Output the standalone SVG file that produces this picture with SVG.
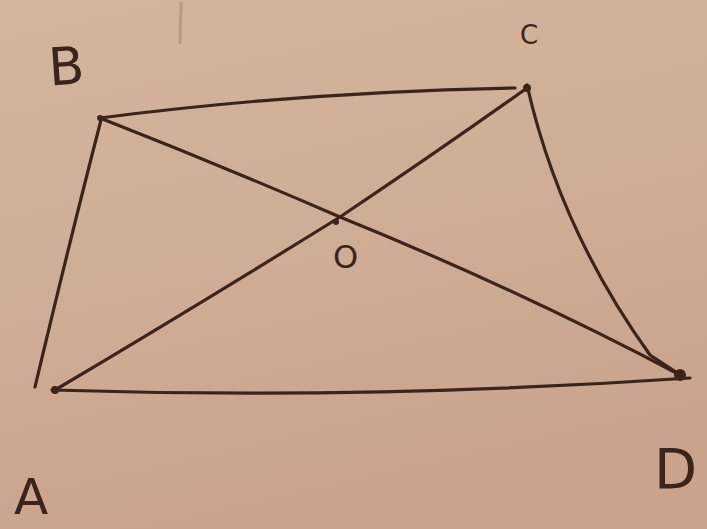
<svg xmlns="http://www.w3.org/2000/svg" width="707" height="529" viewBox="0 0 707 529">
<defs>
<linearGradient id="bg" x1="0" y1="0" x2="0.3" y2="1">
<stop offset="0" stop-color="#d3b59d"/>
<stop offset="0.5" stop-color="#cfae97"/>
<stop offset="1" stop-color="#c9a38e"/>
</linearGradient>
<style>
.ln{fill:none;stroke:#3c2418;stroke-width:3.2;stroke-linecap:round;stroke-linejoin:round}
.lbl{font-family:"DejaVu Sans",sans-serif;fill:#3c2418;font-weight:normal}
</style>
</defs>
<rect width="707" height="529" fill="url(#bg)"/>
<path d="M181 2 L180 44" stroke="#a88a74" stroke-width="3" fill="none" opacity="0.6"/>
<g id="connectors">
<path class="ln" d="M100 118 Q300 92 515 88"/>
<path class="ln" d="M101 120 Q70 240 35 387"/>
<path class="ln" d="M52 390 Q370 400 690 378"/>
<path class="ln" d="M55 390 Q190 310 340 217 Q440 150 527 88"/>
<path class="ln" d="M100 118 Q220 165 340 217 Q520 290 682 376"/>
<path class="ln" d="M527 85 Q560 230 650 355 L682 376"/>
</g>
<g id="node-B"><text class="lbl" x="48" y="84" font-size="52" transform="rotate(-4 70 60)">B</text></g>
<g id="node-C"><text class="lbl" x="520" y="44" font-size="26">C</text></g>
<g id="node-O"><text class="lbl" x="333" y="268" font-size="32">O</text></g>
<g id="node-A"><text class="lbl" x="14" y="514" font-size="50">A</text></g>
<g id="node-D"><text class="lbl" x="654" y="488" font-size="56">D</text></g>
<circle cx="55" cy="390" r="4" fill="#3c2418"/>
<circle cx="100" cy="118" r="3" fill="#3c2418"/>
<circle cx="527" cy="88" r="4" fill="#3c2418"/>
<circle cx="680" cy="375" r="6" fill="#3c2418"/>
<circle cx="336" cy="222" r="3" fill="#3c2418"/>
</svg>
